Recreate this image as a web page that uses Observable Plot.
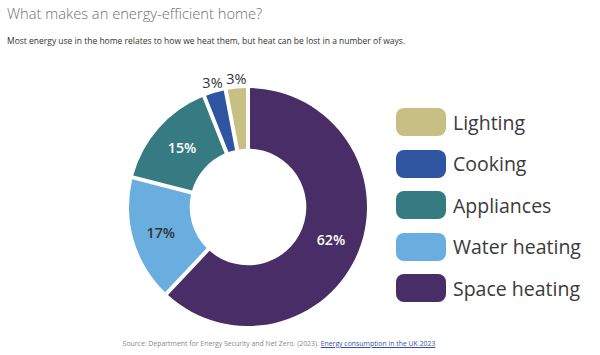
<!DOCTYPE html>
<html>
<head>
<meta charset="utf-8">
<script src="https://cdn.jsdelivr.net/npm/d3@7"></script>
<script src="https://cdn.jsdelivr.net/npm/@observablehq/plot@0.6"></script>
<style>
  html, body { margin: 0; padding: 0; background: #fff; }
  body { width: 600px; height: 355px; position: relative; overflow: hidden; font-family: "Open Sans", sans-serif; }
  #title { position: absolute; left: 7px; top: 1px; font-size: 14.7px; line-height: 24px; font-weight: 300; color: #707070; white-space: nowrap; }
  #subtitle { position: absolute; left: 7px; top: 34px; font-size: 8.5px; line-height: 14px; color: #333; white-space: nowrap; }
  #chart { position: absolute; left: 0; top: 55px; }
  #legend { position: absolute; left: 396px; top: 108px; }
  .item { display: flex; align-items: center; height: 28px; margin-bottom: 13.5px; }
  .sw { width: 50px; height: 28px; border-radius: 8px; margin-right: 7px; }
  .lab { font-size: 19.5px; color: #3a3a3a; white-space: nowrap; }
  #caption { position: absolute; left: 0; width: 558px; text-align: center; top: 338px; font-size: 6.9px; line-height: 12px; color: #888; white-space: nowrap; }
  #caption a { color: #3b4fa0; text-decoration: underline; }
</style>
</head>
<body>
<div id="title">What makes an energy-efficient home?</div>
<div id="subtitle">Most energy use in the home relates to how we heat them, but heat can be lost in a number of ways.</div>
<div id="chart"></div>
<div id="legend"></div>
<div id="caption">Source: Department for Energy Security and Net Zero. (2023). <a href="#">Energy consumption in the UK 2023</a></div>
<script>
// Data (clockwise from 12 o'clock)
const categories = ["Space heating", "Water heating", "Appliances", "Cooking", "Lighting"];
const values = [62, 17, 15, 3, 3];
const colors = ["#482d66", "#6aaee0", "#377b82", "#2f54a0", "#c8bf84"];
const legendOrder = ["Lighting", "Cooking", "Appliances", "Water heating", "Space heating"];

const color = Plot.scale({color: {type: "ordinal", domain: categories, range: colors}});

const table = categories.map((c, i) => ({category: c, value: values[i]}));
const pie = d3.pie().sort(null).value(d => d.value)(table);

const innerFrac = 0.49; // inner radius / outer radius
const labelData = pie.map(p => {
  const a = (p.startAngle + p.endAngle) / 2;
  const small = p.data.value < 5;
  const rr = small ? 1.085 : (1 + innerFrac) / 2 * (p.data.category === "Water heating" ? 1.03 : 1);
  return {
    category: p.data.category,
    text: p.data.value + "%",
    x: rr * Math.sin(a),
    y: rr * Math.cos(a),
    small,
    fill: (p.data.category === "Water heating" || small) ? "#333" : "#fff"
  };
});

function donutMark(arcs) {
  return (index, scales, values, dimensions) => {
    const cx = scales.x(0), cy = scales.y(0);
    const R = Math.abs(scales.x(1) - scales.x(0));
    const arc = d3.arc().innerRadius(R * innerFrac).outerRadius(R).padAngle(0.034).padRadius(R);
    const g = d3.create("svg:g").attr("transform", `translate(${cx},${cy})`);
    g.selectAll("path").data(arcs).join("path")
      .attr("d", arc)
      .attr("fill", d => color.apply(d.data.category));
    return g.node();
  };
}

const chart = Plot.plot({
  width: 600,
  height: 280,
  margin: 0,
  x: {type: "linear", domain: [-1, 1], range: [129, 367], axis: null},
  y: {type: "linear", domain: [-1, 1], range: [271, 33], axis: null},
  marks: [
    donutMark(pie),
    Plot.text(labelData.filter(d => !d.small), {
      x: "x", y: "y", text: "text",
      fill: "fill",
      fontSize: 14.2,
      fontWeight: 600,
      fontFamily: "Open Sans"
    }),
    Plot.text(labelData.filter(d => d.small), {
      x: "x", y: "y", text: "text",
      fill: "fill",
      fontSize: 14.5,
      fontWeight: 400,
      fontFamily: "Open Sans"
    })
  ]
});
chart.style.fontFamily = "Open Sans";
document.getElementById("chart").appendChild(chart);

const legend = d3.select("#legend");
legendOrder.forEach(c => {
  const it = legend.append("div").attr("class", "item");
  it.append("div").attr("class", "sw").style("background", color.apply(c));
  it.append("div").attr("class", "lab").text(c);
});
</script>
</body>
</html>
